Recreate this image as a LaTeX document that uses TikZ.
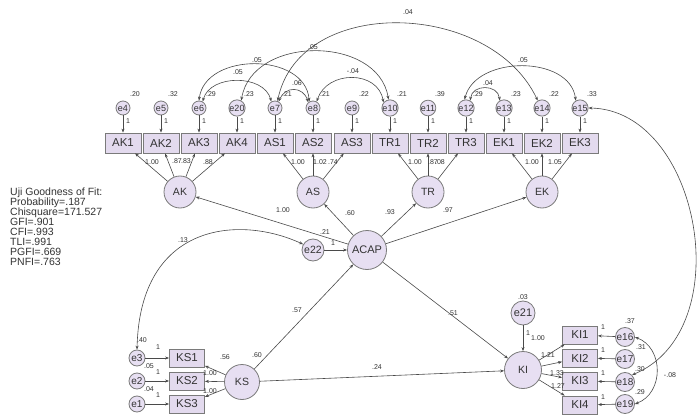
\documentclass[tikz,border=0pt]{standalone}
\usepackage{fontspec}
\setmainfont{Liberation Sans}
\usetikzlibrary{arrows.meta}
\definecolor{boxc}{HTML}{E3DAEE}
\definecolor{circc}{HTML}{E7DFF2}
\definecolor{bordc}{HTML}{7A7A7A}
\definecolor{linec}{HTML}{4A4A4A}
\definecolor{txtc}{HTML}{333333}
\tikzset{
 obs/.style={draw=bordc, line width=0.8pt, fill=boxc, minimum width=36pt, minimum height=20pt, inner sep=0pt, text=txtc, font=\fontsize{11.5}{12}\selectfont},
 obsk/.style={obs, minimum width=35pt, minimum height=18pt},
 err/.style={circle, draw=bordc, line width=0.8pt, fill=circc, minimum size=14pt, inner sep=0pt, text=txtc, font=\fontsize{9}{9}\selectfont},
 errb/.style={err, minimum size=19pt, font=\fontsize{10}{10}\selectfont},
 lat/.style={circle, draw=bordc, line width=0.8pt, fill=circc, minimum size=32pt, inner sep=0pt, text=txtc, font=\fontsize{10.5}{10.5}\selectfont},
 num/.style={font=\fontsize{7}{7}\selectfont, inner sep=0pt, text=txtc},
 arr/.style={-{Stealth[length=4pt,width=3pt]}, draw=linec, line width=0.6pt},
 cov/.style={{Stealth[length=4pt,width=3pt]}-{Stealth[length=4pt,width=3pt]}, draw=linec, line width=0.6pt},
}
\begin{document}
\begin{tikzpicture}[x=1pt,y=-1pt]
\fill[white] (0,0) rectangle (699,417);
\useasboundingbox (0,0) rectangle (699,417);

% indicator boxes, top row
\foreach \n/\xx in {AK1/123,AK2/161,AK3/199,AK4/237,AS1/275,AS2/313,AS3/352,TR1/390,TR2/428,TR3/466,EK1/504,EK2/542,EK3/580}
  \node[obs] (\n) at (\xx,143) {\n};

% error terms, top row
\foreach \e/\bx/\xx/\va in {e4/AK1/123/.20,e5/AK2/161/.32,e6/AK3/199/.29,e20/AK4/237/.23,e7/AS1/275/.21,e8/AS2/313/.21,e9/AS3/352/.22,e10/TR1/390/.21,e11/TR2/428/.39,e12/TR3/466/.29,e13/EK1/504/.23,e14/EK2/542/.22,e15/EK3/580/.33}{
  \node[err] (\e) at (\xx,108) {\e};
  \draw[arr] (\e) -- (\bx);
  \node[num] at (\xx+12,94) {\va};
  \node[num] at (\xx+5,121) {1};
}

% latent factors
\node[lat] (AK) at (180,192) {AK};
\node[lat] (AS) at (313,192) {AS};
\node[lat] (TR) at (428,192) {TR};
\node[lat] (EK) at (542,192) {EK};
\node[lat, minimum size=39pt, font=\fontsize{11}{11}\selectfont] (ACAP) at (367,250) {ACAP};
\node[err, minimum size=22pt, font=\fontsize{10.5}{10.5}\selectfont] (e22) at (313,250) {e22};
\node[lat, minimum size=35pt] (KS) at (242,382) {KS};
\node[lat, minimum size=37pt] (KI) at (523,370) {KI};
\node[err, minimum size=24pt, font=\fontsize{11}{11}\selectfont] (e21) at (523,313) {e21};

% loadings top
\foreach \l/\i in {AK/AK1,AK/AK2,AK/AK3,AK/AK4,AS/AS1,AS/AS2,AS/AS3,TR/TR1,TR/TR2,TR/TR3,EK/EK1,EK/EK2,EK/EK3}
  \draw[arr] (\l) -- (\i);
\node[num] at (152,162) {1.00};
\node[num] at (177,161) {.87};
\node[num] at (186,161) {.83};
\node[num] at (208,162) {.88};
\node[num] at (298,162) {1.00};
\node[num] at (320,162) {1.02};
\node[num] at (333,162) {.74};
\node[num] at (415,162) {1.00};
\node[num] at (433,162) {.87};
\node[num] at (440,162) {.08};
\node[num] at (532,162) {1.00};
\node[num] at (555,162) {1.05};

% structural paths
\draw[arr] (ACAP) -- (AK);
\draw[arr] (ACAP) -- (AS);
\draw[arr] (ACAP) -- (TR);
\draw[arr] (ACAP) -- (EK);
\draw[arr] (e22) -- (ACAP);
\draw[arr] (KS) -- (ACAP);
\draw[arr] (ACAP) -- (KI);
\draw[arr] (KS) -- (KI);
\draw[arr] (e21) -- (KI);
\node[num] at (283,210) {1.00};
\node[num] at (350,213) {.60};
\node[num] at (390,212) {.93};
\node[num] at (448,210) {.97};
\node[num] at (325,232) {.21};
\node[num] at (333,243) {1};
\node[num] at (297,310) {.57};
\node[num] at (453,313) {.51};
\node[num] at (377,367) {.24};
\node[num] at (523,297) {.03};
\node[num] at (528,333) {1};

% KS block
\node[obsk] (KS1) at (187,358) {KS1};
\node[obsk] (KS2) at (187,381) {KS2};
\node[obsk] (KS3) at (187,404) {KS3};
\node[err, minimum size=16pt, font=\fontsize{10}{10}\selectfont] (e3) at (137,358) {e3};
\node[err, minimum size=16pt, font=\fontsize{10}{10}\selectfont] (e2) at (137,381) {e2};
\node[err, minimum size=16pt, font=\fontsize{10}{10}\selectfont] (e1) at (137,404) {e1};
\draw[arr] (e3) -- (KS1);
\draw[arr] (e2) -- (KS2);
\draw[arr] (e1) -- (KS3);
\draw[arr] (KS) -- (KS1);
\draw[arr] (KS) -- (KS2);
\draw[arr] (KS) -- (KS3);
\node[num] at (158,347) {1};
\node[num] at (158,372) {1};
\node[num] at (158,395) {1};
\node[num] at (142,340) {.40};
\node[num] at (149,366) {.05};
\node[num] at (149,389) {.04};
\node[num] at (257,355) {.60};
\node[num] at (225,357) {.56};
\node[num] at (210,373) {1.00};
\node[num] at (210,391) {1.00};

% KI block
\node[obsk] (KI1) at (580,335) {KI1};
\node[obsk] (KI2) at (580,358) {KI2};
\node[obsk] (KI3) at (580,381) {KI3};
\node[obsk] (KI4) at (580,405) {KI4};
\node[errb] (e16) at (625,337) {e16};
\node[errb] (e17) at (625,359) {e17};
\node[errb] (e18) at (625,382) {e18};
\node[errb] (e19) at (625,404) {e19};
\draw[arr] (e16) -- (KI1);
\draw[arr] (e17) -- (KI2);
\draw[arr] (e18) -- (KI3);
\draw[arr] (e19) -- (KI4);
\draw[arr] (KI) -- (KI1);
\draw[arr] (KI) -- (KI2);
\draw[arr] (KI) -- (KI3);
\draw[arr] (KI) -- (KI4);
\node[num] at (603,327) {1};
\node[num] at (603,350) {1};
\node[num] at (603,373) {1};
\node[num] at (603,397) {1};
\node[num] at (630,321) {.37};
\node[num] at (641,347) {.31};
\node[num] at (640,369) {.30};
\node[num] at (640,392) {.29};
\node[num] at (538,338) {1.00};
\node[num] at (548,355) {1.21};
\node[num] at (557,373) {1.33};
\node[num] at (558,386) {1.27};

% covariances, top row
\draw[cov] (e6.60) .. controls (210,74) and (264,74) .. (e7.120);
\draw[cov] (e6.90) .. controls (205,52) and (305,52) .. (e8.120);
\draw[cov] (e20.60) .. controls (252,35) and (378,35) .. (e10.100);
\draw[cov] (e8.60) .. controls (327,70) and (378,70) .. (e10.140);
\draw[cov] (e7.60) .. controls (285,86) and (303,86) .. (e8.130);
\draw[cov] (e7.70) .. controls (300,-5) and (490,0) .. (e14.120);
\draw[cov] (e12.60) .. controls (472,84) and (498,84) .. (e13.120);
\draw[cov] (e12.100) .. controls (476,55) and (570,55) .. (e15.120);
\node[num] at (238,72) {.05};
\node[num] at (257,60) {.05};
\node[num] at (313,47) {.05};
\node[num] at (353,71) {-.04};
\node[num] at (297,83) {.06};
\node[num] at (408,12) {.04};
\node[num] at (488,83) {.04};
\node[num] at (523,60) {.05};

% other covariances
\draw[cov] (e22.150) .. controls (240,215) and (140,222) .. (e3.north);
\node[num] at (183,240) {.13};
\draw[cov] (e15.east) .. controls (700,110) and (740,330) .. (e18.north east);
\draw[cov] (e16.east) .. controls (664,348) and (664,393) .. (e19.east);
\node[num] at (670,375) {-.08};

% fit indices
\node[anchor=north west, align=left, inner sep=0pt, text=txtc, font=\fontsize{10.5}{10}\selectfont] (fit) at (10,188)
 {Uji Goodness of Fit:\\Probability=.187\\Chisquare=171.527\\GFI=.901\\CFI=.993\\TLI=.991\\PGFI=.669\\PNFI=.763};
\end{tikzpicture}
\end{document}
